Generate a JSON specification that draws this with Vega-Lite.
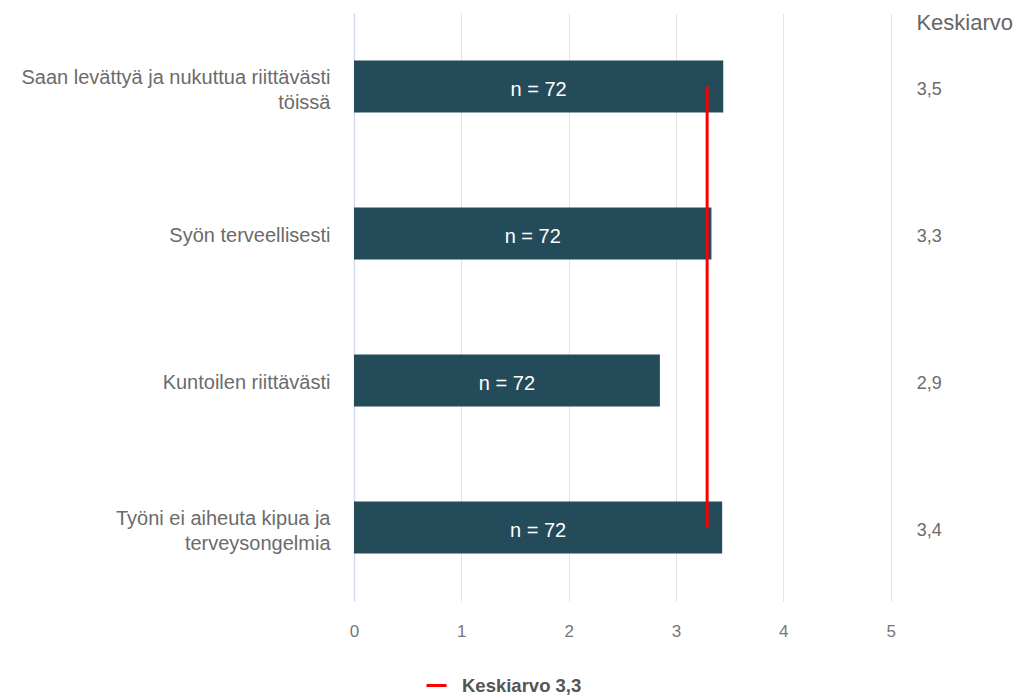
{
  "$schema": "https://vega.github.io/schema/vega-lite/v6.json",
  "width": 644,
  "height": 588,
  "autosize": "none",
  "padding": {"left": 354, "top": 13, "right": 25, "bottom": 97},
  "background": "white",
  "config": {
    "locale": {"number": {"decimal": ",", "thousands": " ", "grouping": [3], "currency": ["", " €"]}},
    "font": "Liberation Sans",
    "view": {"stroke": null}
  },
  "datasets": {
    "bars": [
      {"item": "Saan levättyä ja nukuttua riittävästi|töissä", "value": 3.44, "nlabel": "n = 72", "mean": 3.5},
      {"item": "Syön terveellisesti", "value": 3.33, "nlabel": "n = 72", "mean": 3.3},
      {"item": "Kuntoilen riittävästi", "value": 2.85, "nlabel": "n = 72", "mean": 2.9},
      {"item": "Työni ei aiheuta kipua ja|terveysongelmia", "value": 3.43, "nlabel": "n = 72", "mean": 3.4}
    ],
    "avg": [
      {"from": "Saan levättyä ja nukuttua riittävästi|töissä", "to": "Työni ei aiheuta kipua ja|terveysongelmia", "mean": 3.29, "series": "Keskiarvo 3,3", "header": "Keskiarvo"}
    ]
  },
  "layer": [
    {
      "data": {"name": "bars"},
      "mark": {"type": "bar", "color": "#234b5a"},
      "encoding": {
        "y": {
          "field": "item", "type": "nominal", "sort": null,
          "scale": {"paddingInner": 0.646, "paddingOuter": 0.323},
          "axis": {
            "title": null,
            "labelExpr": "split(datum.label, '|')",
            "labelFontSize": 20,
            "labelLineHeight": 25,
            "labelColor": "#6b6b6b",
            "labelPadding": 24,
            "labelLimit": 400,
            "labelOffset": {"condition": {"test": "indexof(datum.label, '|') >= 0", "value": -9}, "value": 2},
            "ticks": false,
            "domain": true,
            "domainColor": "#d3dbf2",
            "domainWidth": 1.5,
            "grid": false
          }
        },
        "x": {
          "field": "value", "type": "quantitative",
          "scale": {"domain": [0, 6], "nice": false},
          "axis": {
            "title": null,
            "values": [0, 1, 2, 3, 4, 5],
            "format": "d",
            "grid": true,
            "gridColor": "#e3e3e3",
            "domain": false,
            "ticks": false,
            "labelFlush": false,
            "labelFontSize": 17,
            "labelColor": "#777777",
            "labelPadding": 22
          }
        }
      }
    },
    {
      "data": {"name": "bars"},
      "transform": [{"calculate": "datum.value / 2", "as": "mid"}],
      "mark": {"type": "text", "color": "white", "fontSize": 20, "align": "center", "baseline": "middle", "dy": 3},
      "encoding": {
        "y": {"field": "item", "type": "nominal", "sort": null},
        "x": {"field": "mid", "type": "quantitative"},
        "text": {"field": "nlabel"}
      }
    },
    {
      "data": {"name": "bars"},
      "mark": {"type": "text", "color": "#6b6b6b", "fontSize": 18, "align": "center", "baseline": "middle", "dy": 3},
      "encoding": {
        "y": {"field": "item", "type": "nominal", "sort": null},
        "x": {"datum": 5.36},
        "text": {"field": "mean", "type": "quantitative", "format": ".1f"}
      }
    },
    {
      "data": {"name": "avg"},
      "mark": {"type": "text", "color": "#666666", "fontSize": 22, "align": "center", "baseline": "middle", "dy": -64},
      "encoding": {
        "y": {"field": "from", "type": "nominal", "sort": null},
        "x": {"datum": 5.69},
        "text": {"field": "header"}
      }
    },
    {
      "data": {"name": "avg"},
      "mark": {"type": "rule", "strokeWidth": 3},
      "encoding": {
        "x": {"field": "mean", "type": "quantitative"},
        "y": {"field": "from", "type": "nominal", "sort": null},
        "y2": {"field": "to"},
        "color": {
          "field": "series", "type": "nominal",
          "scale": {"range": ["#ff0000"]},
          "legend": {
            "title": null,
            "orient": "none",
            "legendX": 71,
            "legendY": 661,
            "symbolType": "stroke",
            "symbolSize": 400,
            "symbolStrokeWidth": 3,
            "labelFontSize": 18.5,
            "labelFontWeight": "bold",
            "labelColor": "#555555",
            "labelOffset": 14
          }
        }
      }
    }
  ]
}
